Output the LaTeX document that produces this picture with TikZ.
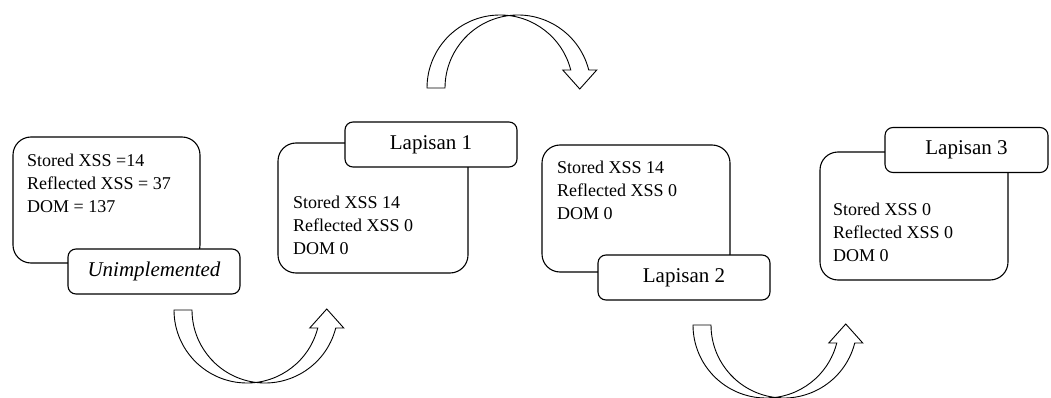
\documentclass[tikz,border=0pt]{standalone}
\usepackage{fontspec}
\setmainfont{Liberation Serif}
\begin{document}
\begin{tikzpicture}[x=1pt,y=1pt,yscale=-1,
  panel/.style={draw,line width=1.1pt,rounded corners=18pt,inner sep=0pt},
  tag/.style={draw,fill=white,line width=1.1pt,rounded corners=8pt,minimum height=45pt,inner sep=0pt,font=\fontsize{21}{25}\selectfont},
  info/.style={anchor=west,align=left,inner sep=0pt,font=\fontsize{18}{23}\selectfont}]
\useasboundingbox(0,0)rectangle(1051,398);
% panels
\node[panel,minimum width=187pt,minimum height=126pt](p0)at(106.5,200){};
\node[panel,minimum width=190pt,minimum height=130pt](p1)at(373,208){};
\node[panel,minimum width=188pt,minimum height=127pt](p2)at(636,208.5){};
\node[panel,minimum width=188pt,minimum height=128pt](p3)at(914,216){};
% counts
\node[info](c0)at(27,183.5){Stored XSS =14\\Reflected XSS = 37\\DOM = 137};
\node[info](c1)at(293,225.5){Stored XSS 14\\Reflected XSS 0\\DOM 0};
\node[info](c2)at(557,190){Stored XSS 14\\Reflected XSS 0\\DOM 0};
\node[info](c3)at(833,232.5){Stored XSS 0\\Reflected XSS 0\\DOM 0};
% tags
\node[tag,minimum width=172pt,font=\fontsize{21}{25}\selectfont\itshape](t0)at(154,271.5){Unimplemented};
\node[tag,minimum width=172pt](t1)at(431,144.5){Lapisan 1};
\node[tag,minimum width=172pt](t2)at(684,277.5){Lapisan 2};
\node[tag,minimum width=163pt](t3)at(966.5,150){Lapisan 3};
% bent block arrows
\foreach \ox/\oy/\s in {174/310/1,693/325/1,427/88/-1}
  \draw[line width=.9pt,fill=white,shift={(\ox,\oy)},yscale=\s]
    (0,0)arc[start angle=180,end angle=14.28,radius=73pt]--(135.75,18)--(152.75,-1)--(169.75,18)--(161.75,18)
    arc[start angle=14.28,end angle=180,radius=73pt]--cycle;
\end{tikzpicture}
\end{document}
